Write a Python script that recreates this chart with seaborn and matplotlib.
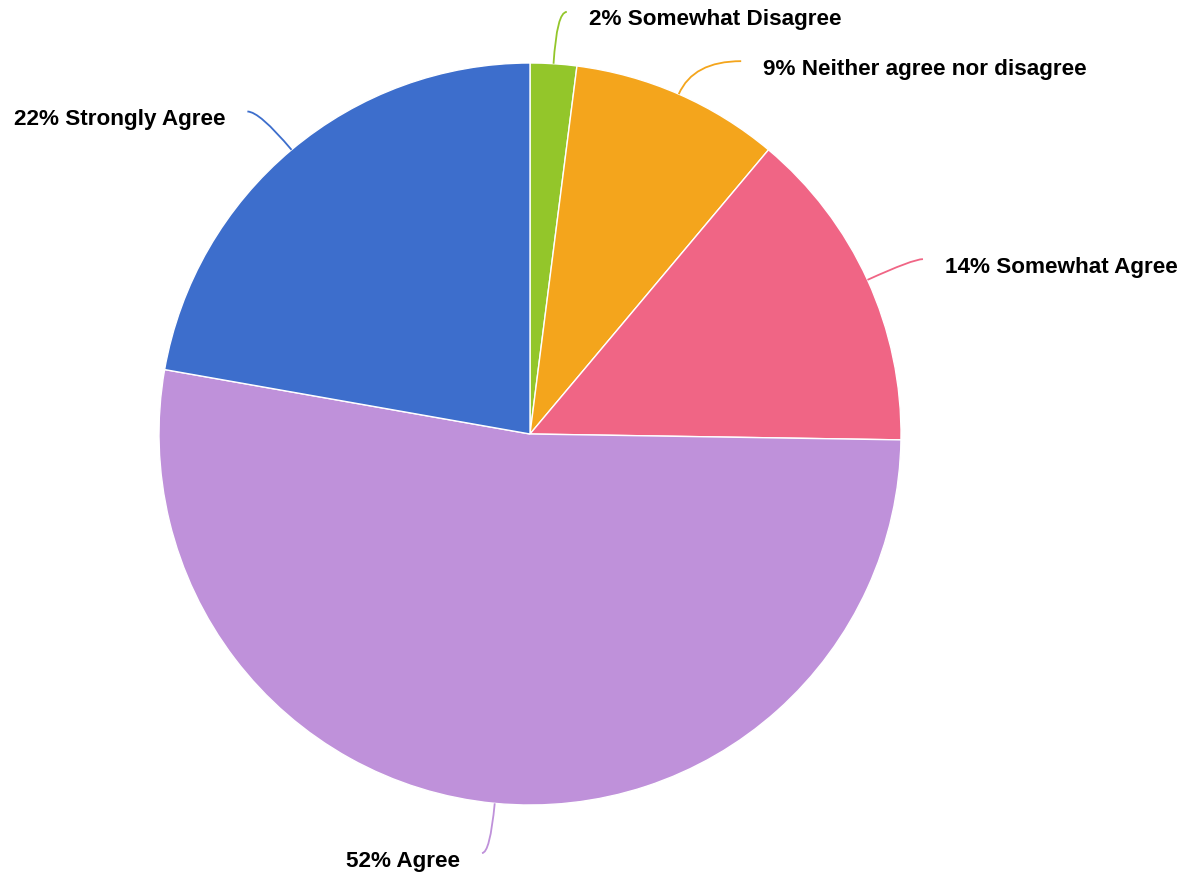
import numpy as np
import matplotlib
matplotlib.use("Agg")
import matplotlib.pyplot as plt
from matplotlib.path import Path
from matplotlib.patches import PathPatch
import seaborn as sns

# Survey responses, in drawing order (clockwise from 12 o'clock)
categories = ["Somewhat Disagree", "Neither agree nor disagree", "Somewhat Agree",
              "Agree", "Strongly Agree"]
percents = [2, 9, 14, 52, 22]
slice_colors = ["#93C62A", "#F4A51C", "#F06585", "#BF91DA", "#3D6ECC"]

# leader line geometry per slice: radial run, horizontal run (px)
leader_radial = [52, 36, 50, 50, 50]
leader_horiz = [10, 48, 10, 8, 12]

sns.set_theme(style="white")
plt.rcParams["font.family"] = ["Liberation Sans", "DejaVu Sans"]

W, H = 1190, 879
fig = plt.figure(figsize=(W / 100, H / 100), dpi=100)
ax = fig.add_axes([0, 0, 1, 1])

cx, cy, r = 530, H - 435, 371
palette = sns.color_palette(slice_colors)
wedges, _ = ax.pie(percents, colors=palette, startangle=90, counterclock=False,
                   center=(cx, cy), radius=r, frame=True,
                   wedgeprops=dict(edgecolor="white", linewidth=1))
ax.set_xlim(0, W)
ax.set_ylim(0, H)
ax.set_aspect("equal")
ax.axis("off")

for w, cat, pct, col, e, h in zip(wedges, categories, percents, slice_colors,
                                  leader_radial, leader_horiz):
    mid = np.deg2rad((w.theta1 + w.theta2) / 2)
    d = np.array([np.cos(mid), np.sin(mid)])
    side = 1 if d[0] >= 0 else -1
    p0 = np.array([cx, cy]) + r * d
    elbow = p0 + e * d
    p3 = elbow + np.array([side * h, 0])
    path = Path([p0, elbow, p3], [Path.MOVETO, Path.CURVE3, Path.CURVE3])
    ax.add_patch(PathPatch(path, fill=False, edgecolor=col, linewidth=1.3))
    ax.text(p3[0] + side * 22, p3[1] - 7, f"{pct}% {cat}",
            ha="left" if side > 0 else "right", va="center",
            fontsize=16.2, fontweight="bold", color="black")

fig.savefig("out.png", dpi=100)
